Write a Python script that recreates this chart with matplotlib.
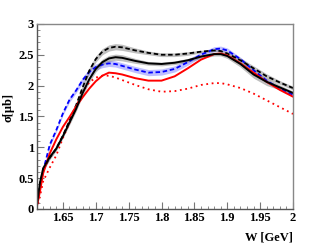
import matplotlib
matplotlib.use("Agg")
import matplotlib.pyplot as plt
from matplotlib.ticker import MultipleLocator, FormatStrFormatter

plt.rcParams['font.family'] = ['Liberation Serif', 'DejaVu Serif']
plt.rcParams['font.weight'] = 'bold'

# W [GeV] sampling points
w = [1.61, 1.615, 1.62, 1.63, 1.64, 1.65, 1.66, 1.67, 1.68, 1.69, 1.70, 1.71,
     1.72, 1.73, 1.74, 1.76, 1.78, 1.80, 1.82, 1.84, 1.86, 1.88, 1.89, 1.90,
     1.92, 1.94, 1.96, 1.98, 2.00]

# black solid (with band)
black_solid = [0.03, 0.42, 0.66, 0.84, 0.98, 1.18, 1.40, 1.62, 1.88, 2.10, 2.27, 2.38,
               2.44, 2.46, 2.45, 2.40, 2.36, 2.35, 2.37, 2.41, 2.47, 2.51, 2.51, 2.48,
               2.35, 2.18, 2.06, 1.97, 1.88]
black_solid_err = [0.01, 0.02, 0.03, 0.03, 0.03, 0.03, 0.04, 0.04, 0.05, 0.05, 0.05, 0.05,
                   0.05, 0.05, 0.05, 0.04, 0.03, 0.03, 0.03, 0.03, 0.03, 0.03, 0.03, 0.04,
                   0.05, 0.06, 0.06, 0.04, 0.03]

# black dashed (with band)
black_dash = [0.03, 0.40, 0.64, 0.83, 0.98, 1.19, 1.43, 1.68, 1.97, 2.24, 2.43, 2.55,
              2.61, 2.63, 2.62, 2.57, 2.53, 2.50, 2.50, 2.52, 2.55, 2.57, 2.56, 2.52,
              2.41, 2.28, 2.15, 2.05, 1.96]
black_dash_err = [0.01, 0.02, 0.03, 0.03, 0.03, 0.03, 0.04, 0.04, 0.05, 0.05, 0.05, 0.05,
                  0.05, 0.05, 0.05, 0.04, 0.03, 0.03, 0.03, 0.03, 0.02, 0.02, 0.02, 0.03,
                  0.04, 0.04, 0.04, 0.03, 0.03]

# blue dashed (with band)
blue_dash = [0.03, 0.35, 0.62, 1.04, 1.28, 1.55, 1.77, 1.92, 2.09, 2.22, 2.30, 2.34,
             2.36, 2.35, 2.32, 2.26, 2.21, 2.22, 2.27, 2.38, 2.50, 2.59, 2.60, 2.57,
             2.43, 2.25, 2.08, 1.95, 1.85]
blue_dash_err = [0.01, 0.02, 0.02, 0.03, 0.03, 0.03, 0.04, 0.04, 0.05, 0.05, 0.05, 0.05,
                 0.05, 0.05, 0.05, 0.05, 0.05, 0.05, 0.05, 0.05, 0.04, 0.04, 0.04, 0.04,
                 0.03, 0.03, 0.02, 0.02, 0.02]

# red solid
red_solid = [0.02, 0.28, 0.58, 0.90, 1.13, 1.33, 1.49, 1.66, 1.81, 1.95, 2.07, 2.16,
             2.21, 2.20, 2.18, 2.12, 2.08, 2.08, 2.15, 2.28, 2.42, 2.51, 2.52, 2.49,
             2.36, 2.21, 2.06, 1.93, 1.82]

# red dotted
red_dot = [0.00, 0.20, 0.45, 0.67, 0.87, 1.15, 1.40, 1.66, 1.90, 2.05, 2.13, 2.16,
           2.16, 2.13, 2.09, 2.01, 1.94, 1.90, 1.91, 1.95, 2.01, 2.04, 2.04, 2.02,
           1.96, 1.87, 1.76, 1.65, 1.54]

fig = plt.figure(figsize=(3.27, 2.49), dpi=100)
ax = fig.add_axes([0.112, 0.161, 0.784, 0.743])

def band(y, e):
    return [a - b for a, b in zip(y, e)], [a + b for a, b in zip(y, e)]

lo, hi = band(blue_dash, blue_dash_err)
ax.fill_between(w, lo, hi, color='#8080ff', alpha=0.5, lw=0)
lo, hi = band(black_solid, black_solid_err)
ax.fill_between(w, lo, hi, color='#808080', alpha=0.5, lw=0)
lo, hi = band(black_dash, black_dash_err)
ax.fill_between(w, lo, hi, color='#808080', alpha=0.5, lw=0)

ax.plot(w, red_dot, color='red', lw=1.3, ls=(0, (1, 2)))
ax.plot(w, blue_dash, color='blue', lw=1.3, ls=(0, (2.5, 1.5)))
ax.plot(w, black_dash, color='black', lw=1.3, ls=(0, (2.5, 1.5)))
ax.plot(w, red_solid, color='red', lw=1.4)
ax.plot(w, black_solid, color='black', lw=1.4)

ax.set_xlim(1.61, 2.0)
ax.set_ylim(0, 3)

ax.xaxis.set_major_locator(MultipleLocator(0.05))
ax.xaxis.set_minor_locator(MultipleLocator(0.01))
ax.yaxis.set_major_locator(MultipleLocator(0.5))
ax.yaxis.set_minor_locator(MultipleLocator(0.1))
ax.xaxis.set_major_formatter(FormatStrFormatter('%g'))
ax.yaxis.set_major_formatter(FormatStrFormatter('%g'))

ax.tick_params(which='both', direction='in', top=False, right=False,
               color='#777777', labelsize=9, pad=2)
ax.tick_params(which='major', length=5)
ax.tick_params(which='minor', length=2.5)
for s in ax.spines.values():
    s.set_color('#888888')
    s.set_linewidth(1.0)
ax.spines['left'].set_color('#555555')
ax.spines['bottom'].set_color('#555555')

for lab in ax.get_xticklabels() + ax.get_yticklabels():
    lab.set_fontweight('bold')

ax.set_xlabel('W [GeV]', fontsize=9, fontweight='bold', ha='right')
ax.xaxis.set_label_coords(1.0, -0.12)
ax.set_ylabel('σ[μb]', fontsize=9, fontweight='bold')
ax.yaxis.set_label_coords(-0.085, 0.55)

fig.savefig('out.png', dpi=100)
